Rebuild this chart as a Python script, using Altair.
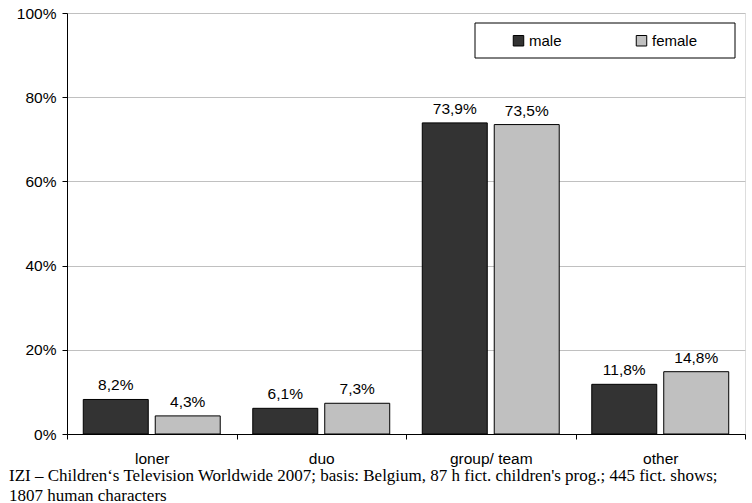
import altair as alt
import pandas as pd

categories = ["loner", "duo", "group/ team", "other"]
series = ["male", "female"]
male = [8.2, 6.1, 73.9, 11.8]
female = [4.3, 7.3, 73.5, 14.8]
colors = ["#333333", "#c0c0c0"]
y_ticks = [0, 0.2, 0.4, 0.6, 0.8, 1.0]
caption = [
    "IZI \u2013 Children\u2018s Television Worldwide 2007; basis: Belgium, 87 h fict. children's prog.; 445 fict. shows;",
    "1807 human characters",
]

rows = []
for c, m, f in zip(categories, male, female):
    for s, v in zip(series, [m, f]):
        rows.append({"cat": c, "sex": s, "v": v / 100,
                     "label": f"{v:.1f}%".replace(".", ",")})
df = pd.DataFrame(rows)

FONT = "Liberation Sans"

x = alt.X("cat:N", sort=categories,
          scale=alt.Scale(paddingInner=0, paddingOuter=0),
          axis=alt.Axis(title=None, labelAngle=0, tickBand="extent",
                        domainColor="black", tickColor="black", tickSize=5,
                        labelFont=FONT, labelFontSize=15.5, labelColor="black",
                        labelPadding=12))
xo = alt.XOffset("sex:N", sort=series,
                 scale=alt.Scale(paddingInner=0.097, paddingOuter=0.226))
y = alt.Y("v:Q", scale=alt.Scale(domain=[0, 1]),
          axis=alt.Axis(title=None, format=".0%", values=y_ticks, grid=True,
                        gridColor="#c0c0c0", domainColor="black",
                        tickColor="black", tickSize=5, labelFont=FONT,
                        labelFontSize=15.5, labelColor="black", labelPadding=6))

base = alt.Chart(df)
bars = base.mark_bar(stroke="black", strokeWidth=1).encode(
    x=x, xOffset=xo, y=y,
    color=alt.Color("sex:N", sort=series,
                    scale=alt.Scale(domain=series, range=colors),
                    legend=alt.Legend(title=None, orient="none", legendX=444,
                                      legendY=20, direction="horizontal",
                                      symbolType="square", symbolSize=110,
                                      symbolStrokeColor="black",
                                      symbolStrokeWidth=1,
                                      labelFont=FONT, labelFontSize=15,
                                      labelColor="black", labelOffset=3,
                                      columnPadding=72)),
)
labels = base.mark_text(baseline="alphabetic", dy=-9, font=FONT, fontSize=15.5,
                        color="black").encode(
    x=x, xOffset=xo, y=y, text="label:N")

box = alt.Chart(alt.Data(values=[{}])).mark_rect(
    fill="white", stroke="black", strokeWidth=1).encode(
    x=alt.value(408), x2=alt.value(668), y=alt.value(10), y2=alt.value(45))

chart = alt.layer(box, bars, labels).properties(
    width=678, height=421,
    autosize=alt.AutoSizeParams(type="none"),
    padding={"left": 67, "top": 13, "right": 7, "bottom": 69},
    title=alt.TitleParams(text=caption, orient="bottom", anchor="start",
                          frame="group", dx=-58, offset=1,
                          font="Liberation Serif", fontSize=17,
                          fontWeight="normal", lineHeight=20, color="black"),
).configure_view(stroke="black", strokeWidth=1).configure(background="white")

chart.save("out.html", embed_options={"renderer": "svg", "actions": False})
